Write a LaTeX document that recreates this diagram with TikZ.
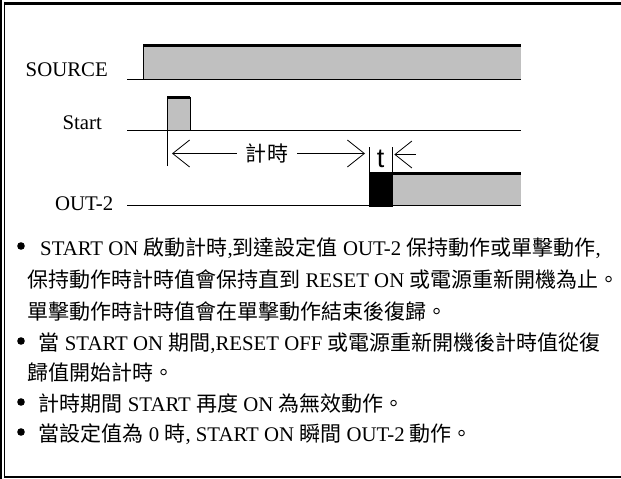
\documentclass[tikz,border=0pt]{standalone}
\usepackage{fontspec}
\setmainfont{Liberation Serif}
\newfontfamily\cjk{Noto Sans CJK TC}[Scale=1.01]
\newfontfamily\tfont{Liberation Sans}
\usetikzlibrary{arrows.meta}

\definecolor{pulseGray}{RGB}{192,192,192}
\newcommand{\zh}[1]{{\cjk #1}}

\begin{document}
\begin{tikzpicture}[x=1pt, y=-1pt,
  every node/.style={inner sep=0pt, font=\fontsize{20.8}{25}\selectfont},
  sigLabel/.style={anchor=base east},
  textline/.style={anchor=base west},
  signal/.style={line width=0.9pt},
  high/.style={line width=3pt},
  pulse/.style={fill=pulseGray},
  dot/.style={circle, fill, minimum size=7.6pt},
  dim/.style={line width=0.8pt, -{Straight Barb[length=17pt,width=27pt,line width=0.8pt]}}]
   \useasboundingbox (0,0) rectangle (621,479);
   % frame
   \draw[line width=1.7pt] (0.85,0) -- (0.85,479);
   \draw[line width=1.3pt] (4.7,1.7) -- (4.7,478);
   \draw[line width=3pt] (4,3.2) -- (621,3.2);
   \draw[line width=2.3pt] (4,477) -- (621,477);

   % SOURCE
   \node[sigLabel] (source) at (108,76.5) {SOURCE};
   \fill[pulse] (143,46) rectangle (520.7,79.5);
   \draw[signal] (127,79.5) -- (520.7,79.5);
   \draw[signal] (143,79.5) -- (143,46);
   \draw[high] (143,45.5) -- (520.7,45.5);

   % Start
   \node[sigLabel] (start) at (102,129) {Start};
   \fill[pulse] (167.3,97) rectangle (190,130);
   \draw[signal] (127,130) -- (520.7,130);
   \draw[signal] (167.3,166) -- (167.3,97);
   \draw[signal] (190,97) -- (190,130);
   \draw[high] (167.3,97) -- (190,97);

   % OUT-2
   \node[sigLabel] (out) at (113.5,210) {OUT-2};
   \fill[pulse] (392.7,174) rectangle (520.7,205.7);
   \fill (369,173) rectangle (392.7,206.5);
   \draw[signal] (127,205.7) -- (520.7,205.7);
   \draw[high] (369,173.3) -- (520.7,173.3);
   \draw[signal] (369,147) -- (369,173);
   \draw[signal] (392,147) -- (392,173);

   % timing
   \coordinate (tStart) at (172,153.5);
   \coordinate (tStop) at (365,153.5);
   \node[inner xsep=9pt] (timing) at (267,153.5) {\zh{計時}};
   \draw[dim] (timing.west) -- (tStart);
   \draw[dim] (timing.east) -- (tStop);
   \node[anchor=base, font=\tfont\fontsize{27}{27}\selectfont] (delay) at (380.5,167) {t};
   \coordinate (dTail) at (415.5,154.5);
   \coordinate (dTip) at (394.3,154.5);
   \draw[dim] (dTail) -- (dTip);

   % notes
   \foreach \y/\n in {255/1,350/4,411/6,441/7}
      \node[dot] (dot\n) at (21,\y-9) {};
   \node[textline] (line1) at (40,255) {START ON \zh{啟動計時},\zh{到達設定值} OUT-2 \zh{保持動作或單擊動作},};
   \node[textline] (line2) at (27,287) {\zh{保持動作時計時值會保持直到} RESET ON \zh{或電源重新開機為止。}};
   \node[textline] (line3) at (27,319) {\zh{單擊動作時計時值會在單擊動作結束後復歸。}};
   \node[textline] (line4) at (38.5,350) {\zh{當} START ON \zh{期間},RESET OFF \zh{或電源重新開機後計時值從復}};
   \node[textline] (line5) at (27,380) {\zh{歸值開始計時。}};
   \node[textline] (line6) at (38.5,411) {\zh{計時期間} START \zh{再度} ON \zh{為無效動作。}};
   \node[textline] (line7) at (38.5,441) {\zh{當設定值為} 0 \zh{時}, START ON \zh{瞬間} OUT-2 \zh{動作。}};
\end{tikzpicture}
\end{document}
